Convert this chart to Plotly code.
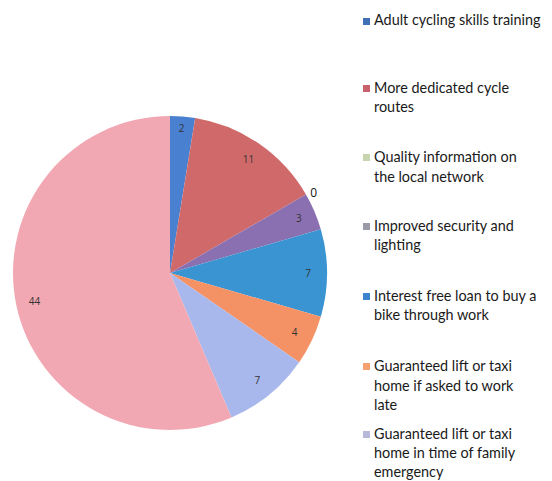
import plotly.graph_objects as go

# page is offset by the 8px default body margin; work in page pixels and convert
OFF = 8
W, H = 552 - OFF, 481 - OFF

categories = [
    "Adult cycling skills training",
    "More dedicated cycle routes",
    "Quality information on the local network",
    "Improved security and lighting",
    "Interest free loan to buy a bike through work",
    "Guaranteed lift or taxi home if asked to work late",
    "Guaranteed lift or taxi home in time of family emergency",
    "Other",
]
values = [2, 11, 0, 3, 7, 4, 7, 44]
colors = ["#4A80D0", "#D06A6A", "#A9C47A", "#8A70B0", "#3A94D2", "#F49266", "#A8B8EC", "#F2A8B2"]
legend_swatch = ["#3F6FB5", "#C8606E", "#C8D4B0", "#9A9AA8", "#3A84D0", "#F4A070", "#B8B8D8"]
legend_text = [
    ["Adult cycling skills training"],
    ["More dedicated cycle", "routes"],
    ["Quality information on", "the local network"],
    ["Improved security and", "lighting"],
    ["Interest free loan to buy a", "bike through work"],
    ["Guaranteed lift or taxi", "home if asked to work", "late"],
    ["Guaranteed lift or taxi", "home in time of family", "emergency"],
]
# vertical centre of each legend line, page pixels
legend_line_y = [
    [21],
    [88, 107],
    [157, 177],
    [226, 245],
    [296, 315],
    [366, 386, 405],
    [434, 453, 472],
]


def px(x):
    return (x - OFF) / W


def py(y):
    return 1 - (y - OFF) / H


cx, cy, r = 170, 273, 157
domain = dict(x=[px(cx - r), px(cx + r)], y=[py(cy + r), py(cy - r)])

fig = go.Figure()
fig.add_trace(go.Pie(
    labels=categories, values=values, sort=False, direction="clockwise", rotation=0,
    marker=dict(colors=colors, line=dict(color="white", width=0)),
    textinfo="none", showlegend=False, domain=domain,
))
# transparent ring carrying the data labels near the outer edge
fig.add_trace(go.Pie(
    labels=categories, values=values, sort=False, direction="clockwise", rotation=0,
    hole=0.76,
    marker=dict(colors=["rgba(0,0,0,0)"] * len(values), line=dict(width=0)),
    textinfo="value",
    textposition=["inside", "inside", "outside", "inside", "inside", "inside", "inside", "inside"],
    insidetextorientation="horizontal",
    textfont=dict(family="Open Sans", size=10, color="#333333"),
    outsidetextfont=dict(family="Open Sans", size=12, color="#111111"),
    showlegend=False, hoverinfo="skip", domain=domain,
))

annotations = []
shapes = []
for lines, ys, sw in zip(legend_text, legend_line_y, legend_swatch):
    for line, y in zip(lines, ys):
        annotations.append(dict(
            xref="paper", yref="paper", x=px(373), y=py(y - 1),
            xanchor="left", yanchor="middle", align="left", showarrow=False,
            text=line, borderpad=0,
            font=dict(family="Lato", size=14.4, color="#1a1a1a"),
        ))
    shapes.append(dict(
        type="rect", xref="paper", yref="paper",
        x0=px(363), x1=px(370), y0=py(ys[0] + 4), y1=py(ys[0] - 3),
        fillcolor=sw, line=dict(width=0),
    ))

fig.update_layout(
    width=W, height=H,
    margin=dict(l=0, r=0, t=0, b=0),
    paper_bgcolor="white",
    annotations=annotations,
    shapes=shapes,
)
fig.write_html("out.html")
